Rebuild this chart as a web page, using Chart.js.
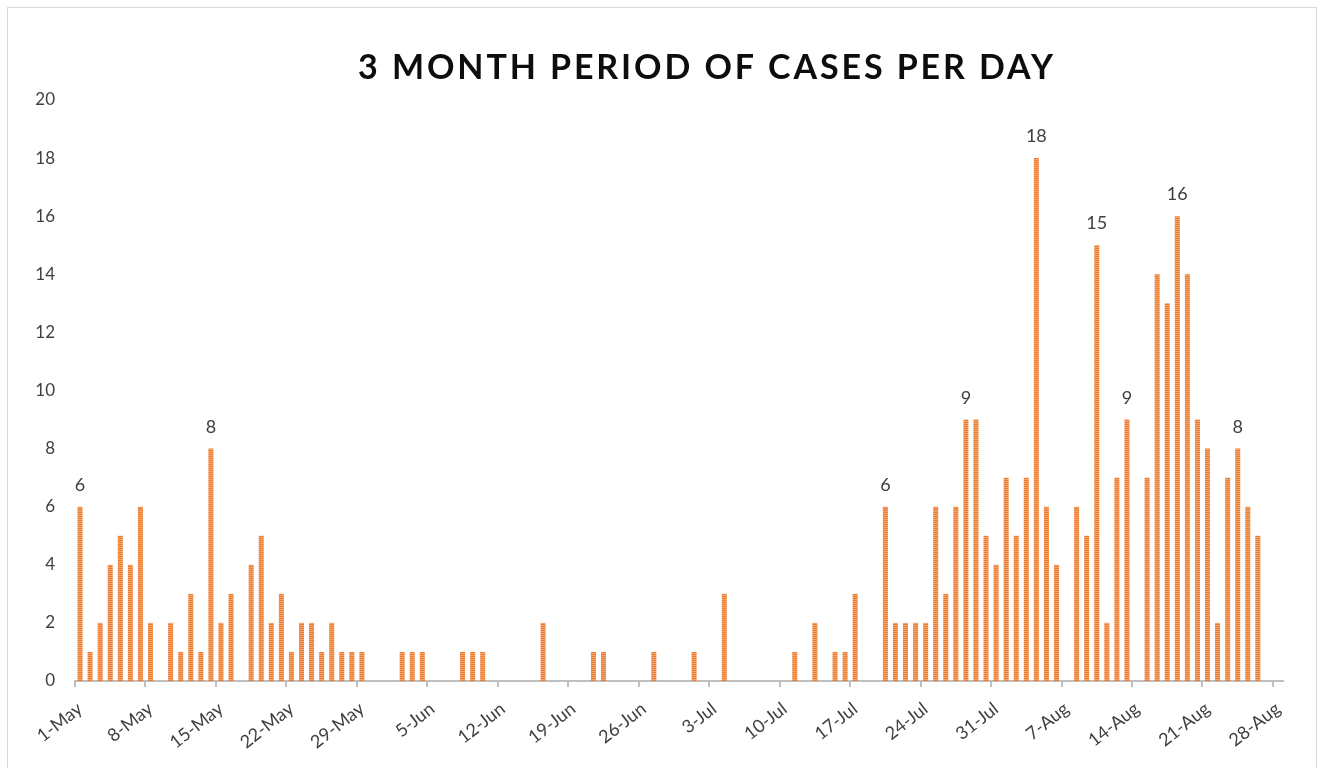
<!DOCTYPE html>
<html>
<head>
<meta charset="utf-8">
<script src="https://cdn.jsdelivr.net/npm/chart.js@4.4.0/dist/chart.umd.min.js"></script>
<style>
  html, body { margin: 0; padding: 0; background: #fff; overflow: hidden; }
  #frame { position: absolute; left: 7px; top: 7px; width: 1308px; height: 790px; border: 1px solid #d9d9d9; }
  #chart { position: absolute; left: 0; top: 0; }
</style>
</head>
<body>
<div id="frame"></div>
<canvas id="chart" width="1322" height="768"></canvas>
<script>
const chartTitle = '3 MONTH PERIOD OF CASES PER DAY';
const titleX = 707;

const monthNames = ['May', 'Jun', 'Jul', 'Aug'];
const monthLengths = [31, 30, 31, 31];

// cases per day, 1-May .. 28-Aug
const cases = [
    6, 1, 2, 4, 5, 4, 6, 2, 0, 2, 1, 3, 1, 8, 2, 3, 0, 4, 5, 2, 3, 1, 2, 2, 1, 2, 1, 1, 1, 0, 0,   // May
    0, 1, 1, 1, 0, 0, 0, 1, 1, 1, 0, 0, 0, 0, 0, 2, 0, 0, 0, 0, 1, 1, 0, 0, 0, 0, 1, 0, 0, 0,      // Jun
    1, 0, 0, 3, 0, 0, 0, 0, 0, 0, 1, 0, 2, 0, 1, 1, 3, 0, 0, 6, 2, 2, 2, 2, 6, 3, 6, 9, 9, 5, 4,   // Jul
    7, 5, 7, 18, 6, 4, 0, 6, 5, 15, 2, 7, 9, 0, 7, 14, 13, 16, 14, 9, 8, 2, 7, 8, 6, 5, 0, 0       // Aug
];

// days whose value is printed above the bar
const labelledDays = [0, 13, 80, 88, 95, 101, 104, 109, 115];

const yTicks = [0, 2, 4, 6, 8, 10, 12, 14, 16, 18, 20];

// build "1-May" style labels for each day
const dayLabels = [];
monthNames.forEach((m, mi) => {
    for (let d = 1; d <= monthLengths[mi]; d++) dayLabels.push(d + '-' + m);
});
dayLabels.length = cases.length;

const canvas = document.getElementById('chart');
const ctx = canvas.getContext('2d');

function makeStripePattern() {
    const p = document.createElement('canvas');
    p.width = 4;
    p.height = 2;
    const g = p.getContext('2d');
    g.fillStyle = '#ED7D31';
    g.fillRect(0, 0, 4, 2);
    g.fillStyle = '#F4A36B';
    g.fillRect(0, 1, 4, 1);
    return ctx.createPattern(p, 'repeat');
}

const titlePlugin = {
    id: 'spacedTitle',
    afterDraw: (chart) => {
        const c = chart.ctx;
        c.save();
        c.font = 'bold 34px Lato';
        c.letterSpacing = '2.9px';
        c.fillStyle = '#0d0d0d';
        c.textAlign = 'center';
        c.textBaseline = 'alphabetic';
        c.fillText(chartTitle, titleX, 79);
        c.restore();
    }
};

const valueLabelPlugin = {
    id: 'valueLabels',
    afterDatasetsDraw: (chart) => {
        const c = chart.ctx;
        const meta = chart.getDatasetMeta(0);
        c.save();
        c.font = '18px Lato';
        c.fillStyle = '#404040';
        c.textAlign = 'center';
        c.textBaseline = 'alphabetic';
        labelledDays.forEach(i => {
            const bar = meta.data[i];
            c.fillText(String(cases[i]), bar.x, bar.y - 16);
        });
        c.restore();
    }
};

new Chart(ctx, {
    type: 'bar',
    data: {
        labels: dayLabels,
        datasets: [{
            data: cases,
            backgroundColor: makeStripePattern(),
            borderWidth: 0,
            barPercentage: 0.5,
            categoryPercentage: 1
        }]
    },
    options: {
        responsive: false,
        animation: false,
        layout: { padding: { top: 100, right: 39, left: 0, bottom: 0 } },
        plugins: {
            legend: { display: false },
            tooltip: { enabled: false },
            title: { display: false }
        },
        scales: {
            x: {
                grid: {
                    display: true,
                    drawOnChartArea: false,
                    drawTicks: true,
                    tickLength: 6,
                    lineWidth: 2,
                    color: (c) => (c.index % 7 === 0 ? '#bfbfbf' : 'rgba(0,0,0,0)')
                },
                border: { display: true, color: '#bfbfbf', width: 2 },
                ticks: {
                    autoSkip: false,
                    minRotation: 38,
                    maxRotation: 38,
                    padding: 11,
                    color: '#404040',
                    font: { family: 'Lato', size: 18 },
                    callback: (v, i) => (i % 7 === 0 ? dayLabels[i] : '')
                },
                afterFit: (s) => { s.height = 87; }
            },
            y: {
                min: 0,
                max: 20,
                grid: { display: false, drawTicks: false },
                border: { display: false },
                ticks: {
                    padding: 20,
                    color: '#404040',
                    font: { family: 'Lato', size: 17 }
                },
                afterBuildTicks: (s) => { s.ticks = yTicks.map(v => ({ value: v })); },
                afterFit: (s) => { s.width = 75; }
            }
        }
    },
    plugins: [titlePlugin, valueLabelPlugin]
});
</script>
</body>
</html>
